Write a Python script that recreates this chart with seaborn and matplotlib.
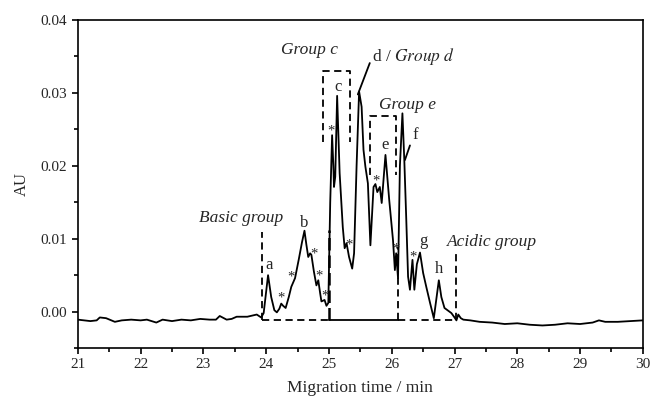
import matplotlib
matplotlib.use("Agg")
import matplotlib.pyplot as plt
import seaborn as sns
import pandas as pd
from matplotlib.ticker import MultipleLocator

# ---- data ----
time_min = [21.00, 21.10, 21.20, 21.30, 21.35, 21.45, 21.59, 21.70, 21.85, 22.00,
            22.10, 22.25, 22.35, 22.50, 22.65, 22.80, 22.95, 23.10, 23.20, 23.26,
            23.37, 23.45, 23.53, 23.70, 23.85, 23.92, 23.96, 24.03, 24.08, 24.13,
            24.17, 24.21, 24.24, 24.27, 24.31, 24.36, 24.40, 24.46, 24.52, 24.57,
            24.61, 24.64, 24.67, 24.70, 24.72, 24.76, 24.80, 24.83, 24.86, 24.88,
            24.93, 24.96, 24.99, 25.02, 25.05, 25.07, 25.08, 25.10, 25.13, 25.17,
            25.22, 25.25, 25.28, 25.32, 25.37, 25.40, 25.44, 25.48, 25.52, 25.55,
            25.58, 25.62, 25.66, 25.71, 25.74, 25.77, 25.81, 25.84, 25.90, 25.96,
            26.02, 26.05, 26.07, 26.10, 26.13, 26.17, 26.20, 26.23, 26.26, 26.29,
            26.33, 26.36, 26.40, 26.45, 26.50, 26.55, 26.61, 26.67, 26.75, 26.79,
            26.84, 26.95, 27.00, 27.03, 27.06, 27.10, 27.14, 27.25, 27.40, 27.60,
            27.80, 28.00, 28.20, 28.40, 28.60, 28.80, 29.00, 29.20, 29.30, 29.40,
            29.60, 29.80, 30.00]
absorbance = [-0.0011, -0.0012, -0.0013, -0.0012, -0.0008, -0.0009, -0.0014, -0.0012, -0.0011, -0.0012,
              -0.0011, -0.0015, -0.0011, -0.0013, -0.0011, -0.0012, -0.0010, -0.0011, -0.0011, -0.0006,
              -0.0011, -0.0010, -0.0007, -0.0007, -0.0004, -0.0008, -0.0002, 0.0050, 0.0020, 0.0002,
              -0.0001, 0.0004, 0.0011, 0.0008, 0.0005, 0.0020, 0.0034, 0.0046, 0.0072, 0.0095,
              0.0111, 0.0092, 0.0075, 0.0080, 0.0078, 0.0055, 0.0036, 0.0043, 0.0025, 0.0014,
              0.0016, 0.0008, 0.0012, 0.0150, 0.0242, 0.0200, 0.0171, 0.0185, 0.0296, 0.0190,
              0.0116, 0.0087, 0.0094, 0.0075, 0.0059, 0.0080, 0.0200, 0.0302, 0.0281, 0.0222,
              0.0199, 0.0176, 0.0091, 0.0171, 0.0175, 0.0164, 0.0171, 0.0149, 0.0215, 0.0153,
              0.0098, 0.0057, 0.0080, 0.0046, 0.0200, 0.0272, 0.0208, 0.0130, 0.0048, 0.0030,
              0.0071, 0.0030, 0.0065, 0.0081, 0.0053, 0.0034, 0.0012, -0.0009, 0.0043, 0.0020,
              0.0005, -0.0002, -0.0008, -0.0012, -0.0004, -0.0009, -0.0011, -0.0012, -0.0014, -0.0015,
              -0.0017, -0.0016, -0.0018, -0.0019, -0.0018, -0.0016, -0.0017, -0.0015, -0.0012, -0.0014,
              -0.0014, -0.0013, -0.0012]

peak_labels = ["a", "b", "c", "e", "g", "h", "f"]
peak_label_x = [24.05, 24.61, 25.15, 25.89, 26.50, 26.75, 26.38]
peak_label_y = [0.0064, 0.0122, 0.0308, 0.0229, 0.0097, 0.0058, 0.0242]

star_x = [24.23, 24.39, 24.76, 24.84, 24.94, 25.03, 25.32, 25.75, 26.07, 26.34]
star_y = [0.0023, 0.0052, 0.0083, 0.0053, 0.0025, 0.0252, 0.0096, 0.0183, 0.0090, 0.0079]

group_texts = ["Basic group", "Group c", "Group e", "Acidic group"]
group_text_x = [23.60, 24.69, 26.25, 27.59]
group_text_y = [0.0128, 0.0359, 0.0283, 0.0096]

baseline_level = -0.0011
basic_edge, c_left, d_right, acidic_edge = 23.93, 25.00, 26.10, 27.03
groupc_box = [24.90, 25.34, 0.0233, 0.0330]
groupe_box = [25.66, 26.06, 0.0188, 0.0268]

# ---- plotting ----
sns.set_theme(style="ticks")
plt.rcParams["font.family"] = ["Liberation Serif", "DejaVu Serif"]
plt.rcParams["mathtext.fontset"] = "stix"

fig = plt.figure(figsize=(6.54, 4.01), dpi=100)
ax = fig.add_axes([0.119, 0.132, 0.864, 0.818])

df = pd.DataFrame({"time": time_min, "AU": absorbance})
sns.lineplot(data=df, x="time", y="AU", ax=ax, color="black", lw=1.3,
             estimator=None, sort=False)

dash_kw = dict(color="black", lw=1.3, ls=(0, (4, 2.5)))
# dashed baseline segments
ax.plot([basic_edge, c_left], [baseline_level, baseline_level], **dash_kw)
ax.plot([d_right, acidic_edge], [baseline_level, baseline_level], **dash_kw)
ax.plot([c_left, d_right], [baseline_level, baseline_level], color="black", lw=1.3)
# vertical group boundaries
ax.plot([basic_edge, basic_edge], [baseline_level, 0.0109], **dash_kw)
ax.plot([c_left, c_left], [baseline_level, 0.0112], color="black", lw=1.8, ls=(0, (5, 2)))
ax.plot([d_right, d_right], [baseline_level, 0.0089], **dash_kw)
ax.plot([acidic_edge, acidic_edge], [baseline_level, 0.0080], **dash_kw)
# group boxes (open at bottom)
for x0, x1, y0, y1 in [groupc_box, groupe_box]:
    ax.plot([x0, x0, x1, x1], [y0, y1, y1, y0], **dash_kw)

# pointers for d / Group d and f
ax.plot([25.46, 25.65], [0.0298, 0.0341], color="black", lw=1.3)
ax.text(25.68, 0.0350, r"d / $\mathit{Group\ d}$", fontsize=12.5, ha="left", va="center")
ax.plot([26.21, 26.29], [0.0208, 0.0228], color="black", lw=1.3)

for lab, x, y in zip(peak_labels, peak_label_x, peak_label_y):
    ax.text(x, y, lab, fontsize=12, ha="center", va="center")
for x, y in zip(star_x, star_y):
    ax.text(x, y - 0.0013, "*", fontsize=10.5, ha="center", va="bottom")
for t, x, y in zip(group_texts, group_text_x, group_text_y):
    ax.text(x, y, t, fontsize=12.5, ha="center", va="center", style="italic")

ax.set_xlim(21, 30)
ax.set_ylim(-0.005, 0.04)
ax.xaxis.set_major_locator(MultipleLocator(1))
ax.xaxis.set_minor_locator(MultipleLocator(0.5))
ax.yaxis.set_minor_locator(MultipleLocator(0.005))
ax.set_yticks([0.0, 0.01, 0.02, 0.03, 0.04])
ax.set_yticklabels(["0.00", "0.01", "0.02", "0.03", "0.04"])
ax.tick_params(which="major", direction="out", length=4, width=1.2, labelsize=11, color="black")
ax.tick_params(which="minor", direction="out", length=3, width=1.2, color="black")
for s in ax.spines.values():
    s.set_visible(True)
    s.set_color("black")
    s.set_linewidth(1.2)
ax.set_xlabel("Migration time / min", fontsize=12.5, labelpad=6)
ax.set_ylabel("AU", fontsize=12, labelpad=8)

fig.savefig("out.png", dpi=100)
